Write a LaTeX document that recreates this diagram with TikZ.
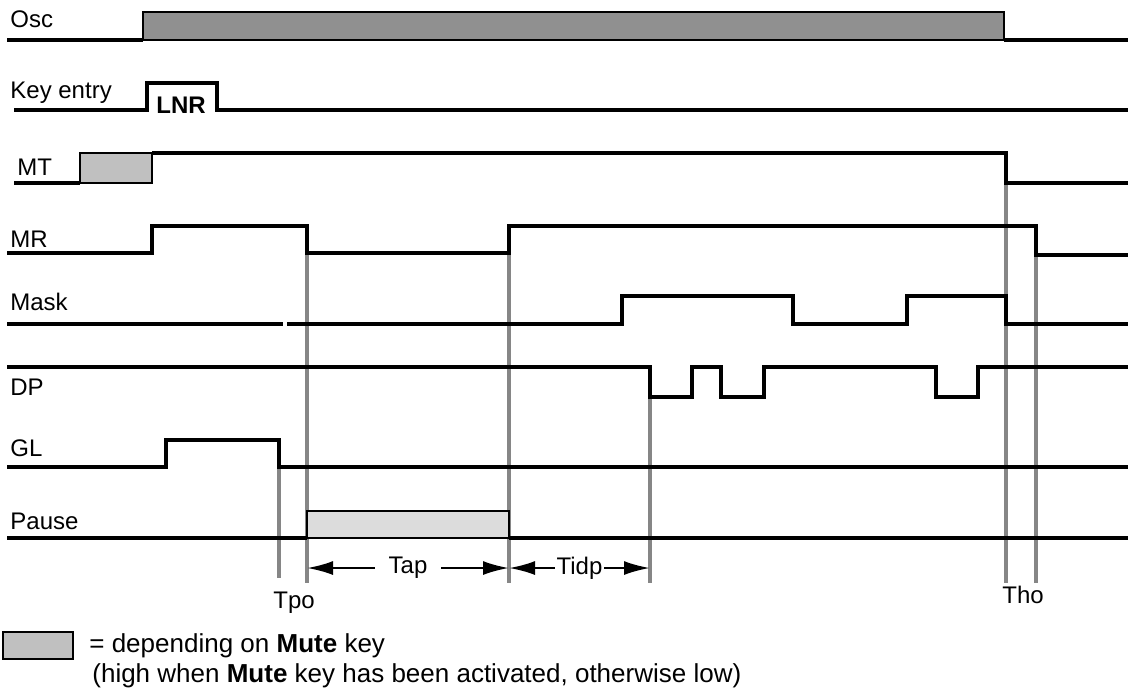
\documentclass[tikz,border=0pt]{standalone}
\usepackage{fontspec}
\setmainfont{Liberation Sans}
\usetikzlibrary{arrows.meta}
\definecolor{oscgray}{HTML}{909090}
\definecolor{mutegray}{HTML}{C0C0C0}
\definecolor{pausegray}{HTML}{DCDCDC}
\definecolor{markgray}{HTML}{868686}

\begin{document}
\begin{tikzpicture}[x=0.5pt,y=-0.5pt,>={Latex[length=13pt,width=7pt]},
		font=\fontsize{12pt}{14pt}\selectfont,
		sig/.style={line width=1.6pt},
		marker/.style={markgray,line width=1.8pt},
		box/.style={draw,line width=1pt},
		lbl/.style={anchor=base west,inner sep=0pt},
		span/.style={<->,line width=1.2pt}
		]
		\useasboundingbox (0,0) rectangle (1128,692);
		
		% time markers
		\draw[marker] (279,467) -- (279,578);
		\draw[marker] (307,253) -- (307,583);
		\draw[marker] (509,253) -- (509,583);
		\draw[marker] (650,397) -- (650,583);
		\draw[marker] (1006,183) -- (1006,583);
		\draw[marker] (1036,255) -- (1036,583);
		
		% signal names
		\node[lbl] (osc) at (10,27) {Osc};
		\node[lbl] (key) at (10,98) {Key entry};
		\node[lbl] (mt) at (17,175) {MT};
		\node[lbl] (mr) at (10,247) {MR};
		\node[lbl] (mask) at (10,310) {Mask};
		\node[lbl] (dp) at (10,395) {DP};
		\node[lbl] (gl) at (10,456) {GL};
		\node[lbl] (pause) at (10,529) {Pause};
		
		% waveforms
		\filldraw[box,fill=oscgray] (143,12) rectangle (1004,40);
		\draw[sig] (7,40) -- (143,40) (1004,40) -- (1128,40);
		
		\draw[sig] (14,110) -- (147,110) -- (147,83) -- (217,83) -- (217,110) -- (1128,110);
		\node[lbl,font=\fontsize{12pt}{14pt}\selectfont\bfseries] (lnr) at (156,113) {LNR};
		
		\filldraw[box,fill=mutegray] (80,153) rectangle (152,183);
		\draw[sig] (14,183) -- (80,183) (152,153) -- (1006,153) -- (1006,183) -- (1128,183);
		
		\draw[sig] (7,253) -- (152,253) -- (152,226) -- (307,226) -- (307,253) -- (509,253)
			-- (509,226) -- (1036,226) -- (1036,255) -- (1128,255);
		
		\draw[sig] (7,324) -- (283,324) (287,324) -- (622,324) -- (622,296) -- (793,296)
			-- (793,324) -- (907,324) -- (907,296) -- (1006,296) -- (1006,324) -- (1128,324);
		
		\draw[sig] (7,367) -- (650,367) -- (650,397) -- (692,397) -- (692,367) -- (721,367)
			-- (721,397) -- (764,397) -- (764,367) -- (936,367) -- (936,397) -- (978,397)
			-- (978,367) -- (1128,367);
		
		\draw[sig] (7,467) -- (166,467) -- (166,440) -- (279,440) -- (279,467) -- (1128,467);
		
		\filldraw[box,fill=pausegray] (307,511) rectangle (509,538);
		\draw[sig] (7,538) -- (307,538) (509,538) -- (1128,538);
		
		% intervals
		\coordinate (tap-a) at (307,568);
		\coordinate (tap-b) at (509,568);
		\coordinate (tidp-b) at (650,568);
		\draw[span] (tap-a) -- (tap-b) node[midway,fill=white,inner xsep=7pt,inner ysep=1pt] (tap) {Tap};
		\draw[span] (tap-b) -- (tidp-b) node[midway,fill=white,inner xsep=1pt,inner ysep=1pt] (tidp) {Tidp};
		\node[lbl] (tpo) at (273,608) {Tpo};
		\node[lbl] (tho) at (1002,603) {Tho};
		
		% legend
		\filldraw[box,fill=mutegray] (3,632) rectangle (73,659);
		\node[lbl,font=\fontsize{13pt}{15pt}\selectfont] (leg1) at (89,652) {= depending on \textbf{Mute} key};
		\node[lbl,font=\fontsize{13pt}{15pt}\selectfont] (leg2) at (92,682) {(high when \textbf{Mute} key has been activated, otherwise low)};
\end{tikzpicture}
\end{document}
